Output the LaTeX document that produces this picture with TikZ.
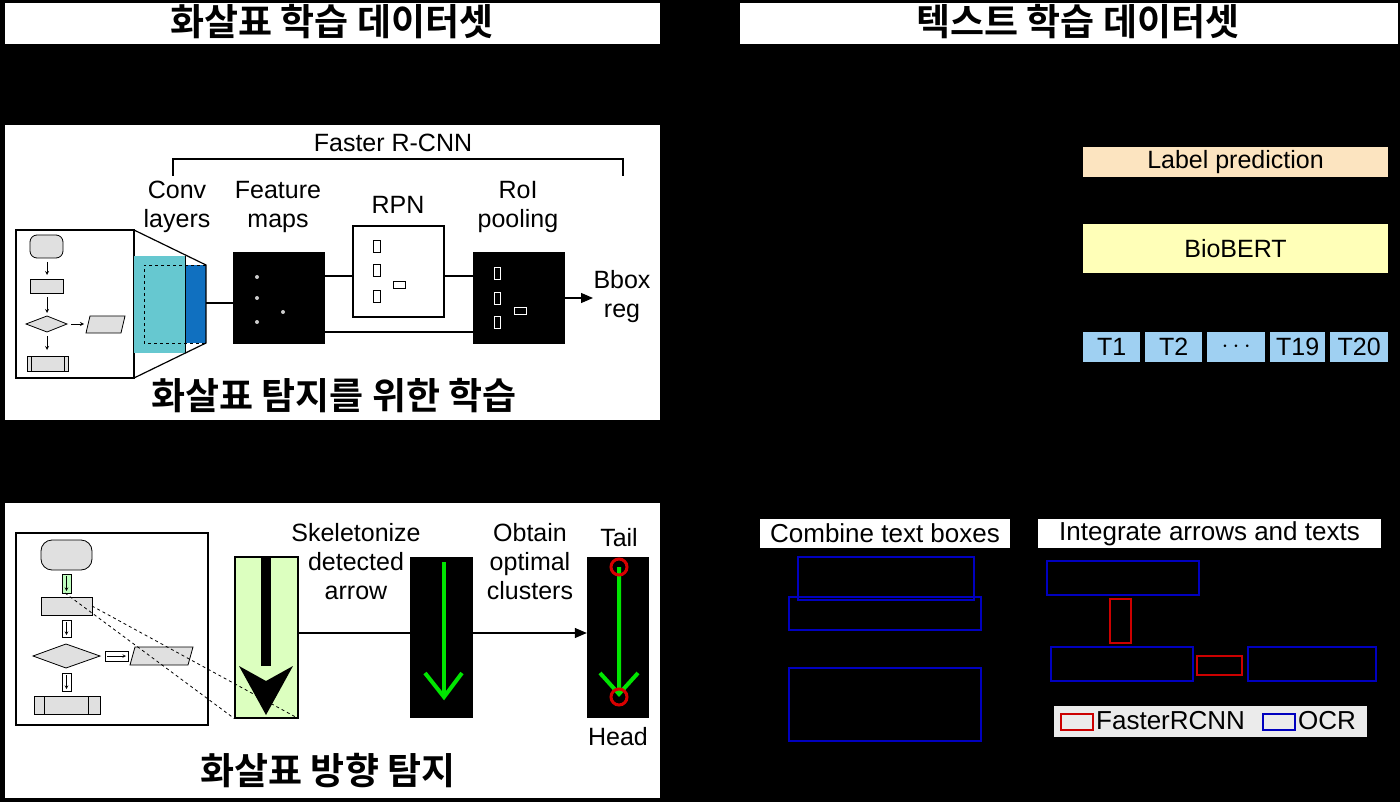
\documentclass[tikz,border=0pt]{standalone}
\usepackage{fontspec}
\usetikzlibrary{arrows.meta}
\setmainfont{Liberation Sans}
\newfontfamily\kr{Noto Sans CJK KR}[BoldFont={* Bold}]
\definecolor{lporange}{HTML}{FCE4C0}
\definecolor{bbyellow}{HTML}{FFFFB8}
\definecolor{tokblue}{HTML}{9FD0F2}
\definecolor{convcyan}{HTML}{66C8D0}
\definecolor{convblue}{HTML}{1070C0}
\begin{document}
\begin{tikzpicture}[x=1pt,y=-1pt,
  lbl/.style={font=\fontsize{25}{29}\selectfont,align=center,inner sep=0},
  krt/.style={font=\kr\bfseries\fontsize{37}{40}\selectfont,inner sep=0},
  krp/.style={font=\kr\bfseries\fontsize{37}{40}\selectfont,inner sep=0},
  fc/.style={draw=black,fill=black!12,line width=0.8pt},
  blk/.style={fill=black},
  ln/.style={line width=1.2pt},
  tip/.style={-{Triangle[length=12pt,width=10pt]}},
  bluebox/.style={draw=blue!75!black,line width=1.2pt},
  redbox/.style={draw=red!80!black,line width=1.2pt},
  tok/.style={fill=tokblue,minimum height=30pt,inner sep=0,anchor=west,font=\fontsize{25}{28}\selectfont}]
\fill[black] (0,0) rectangle (1400,802);
\useasboundingbox (0,0) rectangle (1400,802);
% titles
\fill[white] (5,3) rectangle (660,44);
\node[krt] (t1) at (332,22) {화살표 학습 데이터셋};
\fill[white] (740,3) rectangle (1398,44);
\node[krt] (t2) at (1078,22) {텍스트 학습 데이터셋};
% panel 1
\fill[white] (5,125) rectangle (660,420);
\node[lbl] (frc) at (393,143) {Faster R-CNN};
\draw[ln] (173,176) -- (173,159) -- (623,159) -- (623,176);
\node[lbl] (conv) at (177,207) {Conv\\layers};
\node[lbl] (feat) at (278,207) {Feature\\maps};
\node[lbl] (rpnl) at (398,205) {RPN};
\node[lbl] (roil) at (518,207) {RoI\\pooling};
\node[lbl] (bbox) at (622,297) {Bbox\\reg};
\draw[ln] (16,230) rectangle (134,378);
\fill[convcyan] (134,256) rectangle (185,353);
\fill[convblue] (185,265) rectangle (206,343);
\draw[dashed,line width=0.8pt] (206,265) -- (144,265) -- (144,343) -- (206,343);
\draw[ln] (134,230) -- (206,265) -- (206,343) -- (134,378);
\draw[line width=0.8pt] (185,256) -- (185,353);
% mini flowchart
\draw[fc,rounded corners=7pt] (30,235) rectangle (63,258);
\draw[-stealth,line width=0.8pt] (47,262) -- (47,275);
\draw[fc] (30,279) rectangle (63,293);
\draw[-stealth,line width=0.8pt] (47,297) -- (47,313);
\draw[fc] (26,324) -- (47,316) -- (67,324) -- (47,332) -- cycle;
\draw[-stealth,line width=0.8pt] (71,324) -- (84,324);
\draw[fc] (90,316) -- (125,316) -- (121,333) -- (86,333) -- cycle;
\draw[-stealth,line width=0.8pt] (47,336) -- (47,350);
\draw[fc] (27,356) rectangle (68,371); \draw[line width=0.8pt] (31,356)--(31,371) (64,356)--(64,371);
% feature map
\node[blk,minimum width=92pt,minimum height=92pt,inner sep=0] (fm) at (279,298) {};
\foreach \p in {(257,277),(257,298),(283,312),(257,322)} \fill[white!80!black] \p circle (2pt);
\node[draw,ln,fill=white,minimum width=91pt,minimum height=91pt,inner sep=0] (rpn) at (398.5,271.5) {};
\foreach \yy in {246,270,296} \draw[line width=0.8pt] (373,\yy-6) rectangle (380,\yy+6);
\draw[line width=0.8pt] (393,281) rectangle (405,288);
\node[blk,minimum width=92pt,minimum height=92pt,inner sep=0] (roi) at (519,298) {};
\foreach \yy in {273,298,322} \draw[white,line width=0.8pt] (494,\yy-6) rectangle (500,\yy+6);
\draw[white,line width=0.8pt] (514,307) rectangle (526,314);
\draw[ln] (206,303) -- (fm.west|-0,303);
\draw[ln] (fm.east|-0,276) -- (rpn.west|-0,276);
\draw[ln] (rpn.east|-0,276) -- (roi.west|-0,276);
\draw[ln] (fm.east|-0,332) -- (roi.west|-0,332);
\draw[ln,tip] (roi.east|-0,298) -- (593,298);
\node[krp] (k1) at (334,396) {화살표 탐지를 위한 학습};
% panel 2
\fill[white] (5,503) rectangle (660,798);
\draw[ln] (16,533) rectangle (208,725);
\draw[fc,rounded corners=11pt] (41,540) rectangle (92,570);
\draw[fc,fill=green!25] (62,574) rectangle (71,593);
\draw[fc] (41,597) rectangle (92,615);
\draw[fc,fill=white] (62,620) rectangle (71,637);
\draw[fc] (33,656) -- (66,644) -- (100,656) -- (66,668) -- cycle;
\draw[fc,fill=white] (105,651) rectangle (128,661);
\draw[fc] (135,647) -- (193,647) -- (188,665) -- (130,665) -- cycle;
\draw[fc,fill=white] (62,673) rectangle (71,691);
\foreach \a/\b in {576/591,622/635,675/689} \draw[-stealth,line width=0.6pt] (66.5,\a) -- (66.5,\b);
\draw[-stealth,line width=0.6pt] (107,656) -- (126,656);
\draw[fc] (34,696) rectangle (100,714); \draw[line width=0.8pt] (44,696)--(44,714) (88,696)--(88,714);
\node[fill=green!40!lime!25,draw,ln,minimum width=63pt,minimum height=161pt,inner sep=0] (col) at (266.5,637.5) {};
\fill[black] (261,557) rectangle (271,666);
\fill[black] (239,666) -- (266,681) -- (293,666) -- (266,715) -- cycle;
\draw[dashed,line width=0.8pt] (65,593) -- (col.south west);
\draw[dashed,line width=0.8pt] (92,606) -- (col.south east);
\node[blk,minimum width=63pt,minimum height=161pt,inner sep=0] (sk) at (441.5,637.5) {};
\draw[green!90!black,line width=4pt] (444,562) -- (444,697);
\draw[green!90!black,line width=4pt] (425,673) -- (444,697) -- (462,673);
\node[blk,minimum width=62pt,minimum height=161pt,inner sep=0] (hd) at (618,637.5) {};
\draw[green!90!black,line width=4pt] (619,567) -- (619,694) (600,673) -- (619,694) -- (638,673);
\draw[red!85!black,line width=3pt] (619,567) circle (8pt) (619,697) circle (8pt);
\draw[ln] (col.east|-0,633) -- (sk.west|-0,633);
\draw[ln,tip] (sk.east|-0,633) -- (hd.west|-0,633);
\node[lbl] (skl) at (356,562) {Skeletonize\\detected\\arrow};
\node[lbl] (obl) at (530,562) {Obtain\\optimal\\clusters};
\node[lbl] (tail) at (619,538) {Tail};
\node[lbl] (head) at (618,737) {Head};
\node[krp] (k2) at (328,771) {화살표 방향 탐지};
% right top
\node[fill=lporange,minimum width=305pt,minimum height=30pt,inner sep=0,font=\fontsize{25}{28}\selectfont] (lp) at (1235.5,162) {Label prediction};
\node[fill=bbyellow,minimum width=305pt,minimum height=49pt,inner sep=0,font=\fontsize{25}{28}\selectfont] (bb) at (1235.5,248.5) {BioBERT};
\node[tok,minimum width=57pt] (tk1) at (1083,347) {T1};
\node[tok,minimum width=57pt] (tk2) at (1145,347) {T2};
\node[tok,minimum width=58pt] (tk3) at (1207,347) {$\cdots$};
\node[tok,minimum width=55pt] (tk4) at (1270,347) {T19};
\node[tok,minimum width=58pt] (tk5) at (1330,347) {T20};
% right bottom
\node[fill=white,minimum width=250pt,minimum height=29pt,inner sep=0,font=\fontsize{26}{28}\selectfont] (ctb) at (885,533.5) {Combine text boxes};
\node[fill=white,minimum width=343pt,minimum height=29pt,inner sep=0,font=\fontsize{26}{28}\selectfont] (iat) at (1209.5,533.5) {Integrate arrows and texts};
\draw[bluebox] (798,557) rectangle (974,600);
\draw[bluebox] (789,597) rectangle (981,630);
\draw[bluebox] (789,668) rectangle (981,741);
\draw[bluebox] (1047,561) rectangle (1199,595);
\draw[redbox] (1110,599) rectangle (1131,643);
\draw[bluebox] (1051,647) rectangle (1193,681);
\draw[redbox] (1197,656) rectangle (1242,675);
\draw[bluebox] (1248,647) rectangle (1376,681);
\fill[white!92!black] (1054,706) rectangle (1367,737);
\draw[redbox] (1061,714) rectangle (1093,730);
\node[anchor=west,inner sep=0,font=\fontsize{26}{28}\selectfont] (lf) at (1096,721) {FasterRCNN};
\draw[bluebox] (1263,714) rectangle (1295,730);
\node[anchor=west,inner sep=0,font=\fontsize{26}{28}\selectfont] (lo) at (1298,721) {OCR};
\end{tikzpicture}
\end{document}
